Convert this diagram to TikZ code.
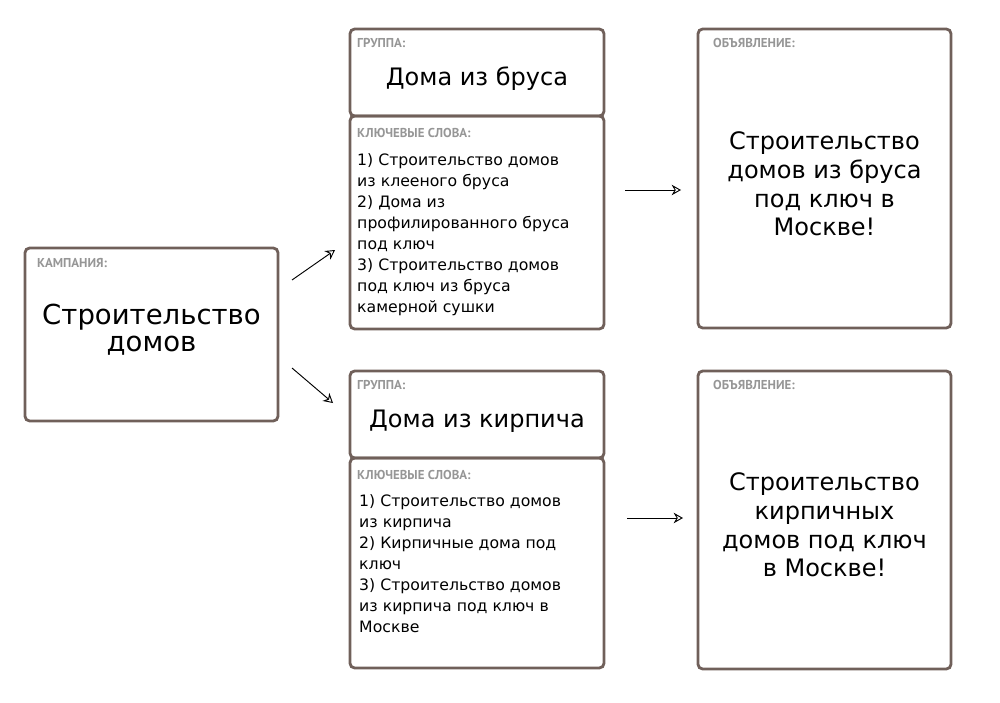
\documentclass[tikz,border=0pt]{standalone}
\usepackage{fontspec}
\setmainfont{DejaVu Sans}
\newfontfamily\tagfont{PT Sans}
\usetikzlibrary{arrows.meta}
\definecolor{frame}{RGB}{112,96,90}
\definecolor{tagcol}{RGB}{150,150,150}
\begin{document}
\begin{tikzpicture}[x=0.03cm,y=-0.03cm,
    card/.style = { draw=frame,line width=2.4pt,rounded corners=4pt,inner sep=0pt },
    tag/.style = { anchor=north west,inner sep=0pt,text=tagcol,font=\tagfont\bfseries\fontsize{11}{12}\selectfont },
    big/.style = { align=center,font=\fontsize{20.5}{24.5}\selectfont },
    list/.style = { anchor=north west,align=left,inner sep=0pt,font=\fontsize{13.4}{18}\selectfont },
    arrowstyle/.style = { -{Stealth[open,length=8pt,width=9pt]},line width=0.8pt }
    ]
    \useasboundingbox (0,0) rectangle (1000,703);
    % Campaign
    \node(C) [card,minimum width=253*0.03cm,minimum height=173*0.03cm] at (151.5,334.5) {};
    \node[tag] at (37,258) {КАМПАНИЯ:};
    \node[align=center,font=\fontsize{23.5}{23}\selectfont] at (151.5,330) {Строительство\\домов};
    % Groups
    \node(G1) [card,minimum width=254*0.03cm,minimum height=87*0.03cm] at (477,72.5) {};
    \node(K1) [card,minimum width=254*0.03cm,minimum height=213*0.03cm] at (477,222.5) {};
    \node(G2) [card,minimum width=254*0.03cm,minimum height=87*0.03cm] at (477,414.5) {};
    \node(K2) [card,minimum width=254*0.03cm,minimum height=210*0.03cm] at (477,563) {};
    \node[tag] at (357,38) {ГРУППА:};
    \node[tag] at (357,128) {КЛЮЧЕВЫЕ СЛОВА:};
    \node[tag] at (357,380) {ГРУППА:};
    \node[tag] at (357,470) {КЛЮЧЕВЫЕ СЛОВА:};
    \node[big] at (477,79) {Дома из бруса};
    \node[big] at (477,421) {Дома из кирпича};
    \node[list] at (357,153) {1) Строительство домов\\из клееного бруса\\2) Дома из\\профилированного бруса\\под ключ\\3) Строительство домов\\под ключ из бруса\\камерной сушки};
    \node[list] at (359,494) {1) Строительство домов\\из кирпича\\2) Кирпичные дома под\\ключ\\3) Строительство домов\\из кирпича под ключ в\\Москве};
    % Ads
    \node(A1) [card,minimum width=253*0.03cm,minimum height=299*0.03cm] at (824.5,178.5) {};
    \node(A2) [card,minimum width=253*0.03cm,minimum height=298*0.03cm] at (824.5,520) {};
    \node[tag] at (713,38) {ОБЪЯВЛЕНИЕ:};
    \node[tag] at (713,380) {ОБЪЯВЛЕНИЕ:};
    \node[big] at (824.5,184) {Строительство\\домов из бруса\\под ключ в\\Москве!};
    \node[big] at (824.5,525) {Строительство\\кирпичных\\домов под ключ\\в Москве!};
    % Arrows
    \coordinate (c1) at (292,280);
    \coordinate (g1) at (335,250);
    \coordinate (c2) at (292,368);
    \coordinate (g2) at (333,403);
    \coordinate (k1) at (625,190);
    \coordinate (a1) at (681,190);
    \coordinate (k2) at (627,518);
    \coordinate (a2) at (683,518);
    \draw[arrowstyle] (c1) -- (g1);
    \draw[arrowstyle] (c2) -- (g2);
    \draw[arrowstyle] (k1) -- (a1);
    \draw[arrowstyle] (k2) -- (a2);
\end{tikzpicture}
\end{document}
